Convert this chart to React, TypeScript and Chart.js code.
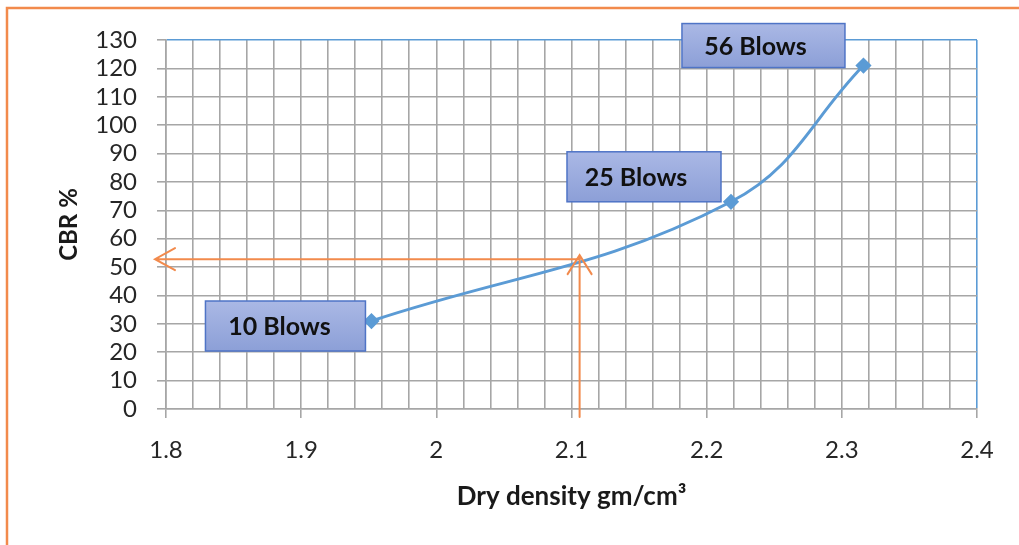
import React, { useEffect, useRef } from "react";
import { Chart, registerables } from "chart.js";

Chart.register(...registerables);

// ---- data ----
const densities = [1.952, 2.218, 2.316];
const cbrValues = [31, 73, 121];
const blowLabels = ["10 Blows", "25 Blows", "56 Blows"];
const xRange = [1.8, 2.4];
const yRange = [0, 130];
const readPoint = [2.106, 52.8];

// ---- styles ----
const LINE_BLUE = "#5b9bd5";
const GRID = "#a6a6a6";
const ORANGE = "#f28a4c";
const TEXT = "#262626";
const boxLayout = [
  { dx: -86, dy: 5, w: 160, h: 50, tx: -6 },
  { dx: -87, dy: -25, w: 154, h: 50, tx: -8 },
  { dx: -100, dy: -20, w: 163, h: 44, tx: -8 },
];

const isMajor = (v: number) => Math.abs(Math.round(v * 10) - v * 10) < 1e-6;

const framePlugin = {
  id: "frame",
  beforeDraw(chart: any) {
    const ctx = chart.ctx;
    ctx.save();
    ctx.fillStyle = "#ffffff";
    ctx.fillRect(0, 0, chart.width, chart.height);
    ctx.strokeStyle = ORANGE;
    ctx.lineWidth = 2.5;
    ctx.strokeRect(7, 8, chart.width + 20, chart.height + 20);
    ctx.restore();
  },
};

const overlayPlugin = {
  id: "overlay",
  afterDatasetsDraw(chart: any) {
    const ctx = chart.ctx;
    const xs = chart.scales.x;
    const ys = chart.scales.y;
    const area = chart.chartArea;
    ctx.save();
    // read-off arrows
    const px = xs.getPixelForValue(readPoint[0]);
    const py = ys.getPixelForValue(readPoint[1]);
    ctx.strokeStyle = ORANGE;
    ctx.lineWidth = 2;
    ctx.lineCap = "round";
    const hTip = area.left - 11;
    ctx.beginPath();
    ctx.moveTo(px, py);
    ctx.lineTo(hTip, py);
    ctx.moveTo(hTip + 20, py - 11);
    ctx.lineTo(hTip, py);
    ctx.lineTo(hTip + 20, py + 11);
    ctx.stroke();
    const vTip = py - 4;
    ctx.beginPath();
    ctx.moveTo(px, area.bottom + 8);
    ctx.lineTo(px, vTip);
    ctx.moveTo(px - 12, vTip + 19);
    ctx.lineTo(px, vTip);
    ctx.lineTo(px + 12, vTip + 19);
    ctx.stroke();

    // label boxes
    blowLabels.forEach((label, i) => {
      const lay = boxLayout[i];
      const cx = xs.getPixelForValue(densities[i]) + lay.dx;
      const cy = ys.getPixelForValue(cbrValues[i]) + lay.dy;
      const x0 = cx - lay.w / 2;
      const y0 = cy - lay.h / 2;
      const g = ctx.createLinearGradient(0, y0, 0, y0 + lay.h);
      g.addColorStop(0, "#aab8e5");
      g.addColorStop(1, "#8c9fd7");
      ctx.fillStyle = g;
      ctx.fillRect(x0, y0, lay.w, lay.h);
      ctx.strokeStyle = "#4f74c6";
      ctx.lineWidth = 1.5;
      ctx.strokeRect(x0, y0, lay.w, lay.h);
      ctx.fillStyle = "#111111";
      ctx.font = "bold 25px Lato";
      ctx.textAlign = "center";
      ctx.textBaseline = "middle";
      ctx.fillText(label, cx + lay.tx, cy + 1);
    });
    ctx.restore();
  },
};

export default function App() {
  const ref = useRef<HTMLCanvasElement | null>(null);

  useEffect(() => {
    document.body.style.margin = "0";
    const canvas = ref.current;
    if (!canvas) return;
    const chart = new Chart(canvas, {
      type: "scatter",
      data: {
        datasets: [
          {
            label: "CBR",
            data: densities.map((d, i) => ({ x: d, y: cbrValues[i] })),
            showLine: true,
            borderColor: LINE_BLUE,
            backgroundColor: LINE_BLUE,
            borderWidth: 3,
            tension: 0.4,
            pointStyle: "rectRot",
            pointRadius: 6,
            pointHoverRadius: 6,
          },
        ],
      },
      options: {
        responsive: false,
        animation: false,
        devicePixelRatio: 1,
        layout: { padding: { left: 0, right: 42, top: 40, bottom: 0 } },
        plugins: {
          legend: { display: false },
          tooltip: { enabled: false },
        },
        scales: {
          x: {
            type: "linear",
            min: xRange[0],
            max: xRange[1],
            afterFit: (s: any) => {
              s.height = 136;
            },
            ticks: {
              stepSize: 0.02,
              autoSkip: false,
              maxRotation: 0,
              padding: 18,
              color: TEXT,
              font: { family: "Lato", size: 24 },
              callback: (v: any) => (isMajor(Number(v)) ? String(Math.round(Number(v) * 10) / 10) : ""),
            },
            grid: {
              color: (c: any) => (c.tick && Math.abs(c.tick.value - xRange[1]) < 1e-6 ? LINE_BLUE : GRID),
              lineWidth: 1.6,
              tickLength: 9,
              tickColor: (c: any) => (c.tick && isMajor(c.tick.value) ? GRID : "rgba(0,0,0,0)"),
            },
            border: { color: GRID, width: 1.6 },
            title: {
              display: true,
              text: "Dry density gm/cm³",
              color: "#1a1a1a",
              font: { family: "Lato", size: 26, weight: "bold" },
              padding: { top: 0, bottom: 33 },
            },
          },
          y: {
            type: "linear",
            min: yRange[0],
            max: yRange[1],
            afterFit: (s: any) => {
              s.width = 166;
            },
            ticks: {
              stepSize: 10,
              autoSkip: false,
              padding: 20,
              color: TEXT,
              font: { family: "Lato", size: 24 },
            },
            grid: {
              color: (c: any) => (c.tick && c.tick.value === yRange[1] ? LINE_BLUE : GRID),
              lineWidth: 1.6,
              tickLength: 9,
              tickColor: GRID,
            },
            border: { color: GRID, width: 1.6 },
            title: {
              display: true,
              text: "CBR %",
              color: "#1a1a1a",
              font: { family: "Lato", size: 24, weight: "bold" },
              padding: { top: 55, bottom: 0 },
            },
          },
        },
      },
      plugins: [framePlugin, overlayPlugin],
    });
    return () => chart.destroy();
  }, []);

  return (
    <div style={{ width: 1019, height: 545 }}>
      <canvas ref={ref} width={1019} height={545} style={{ display: "block" }} />
    </div>
  );
}
